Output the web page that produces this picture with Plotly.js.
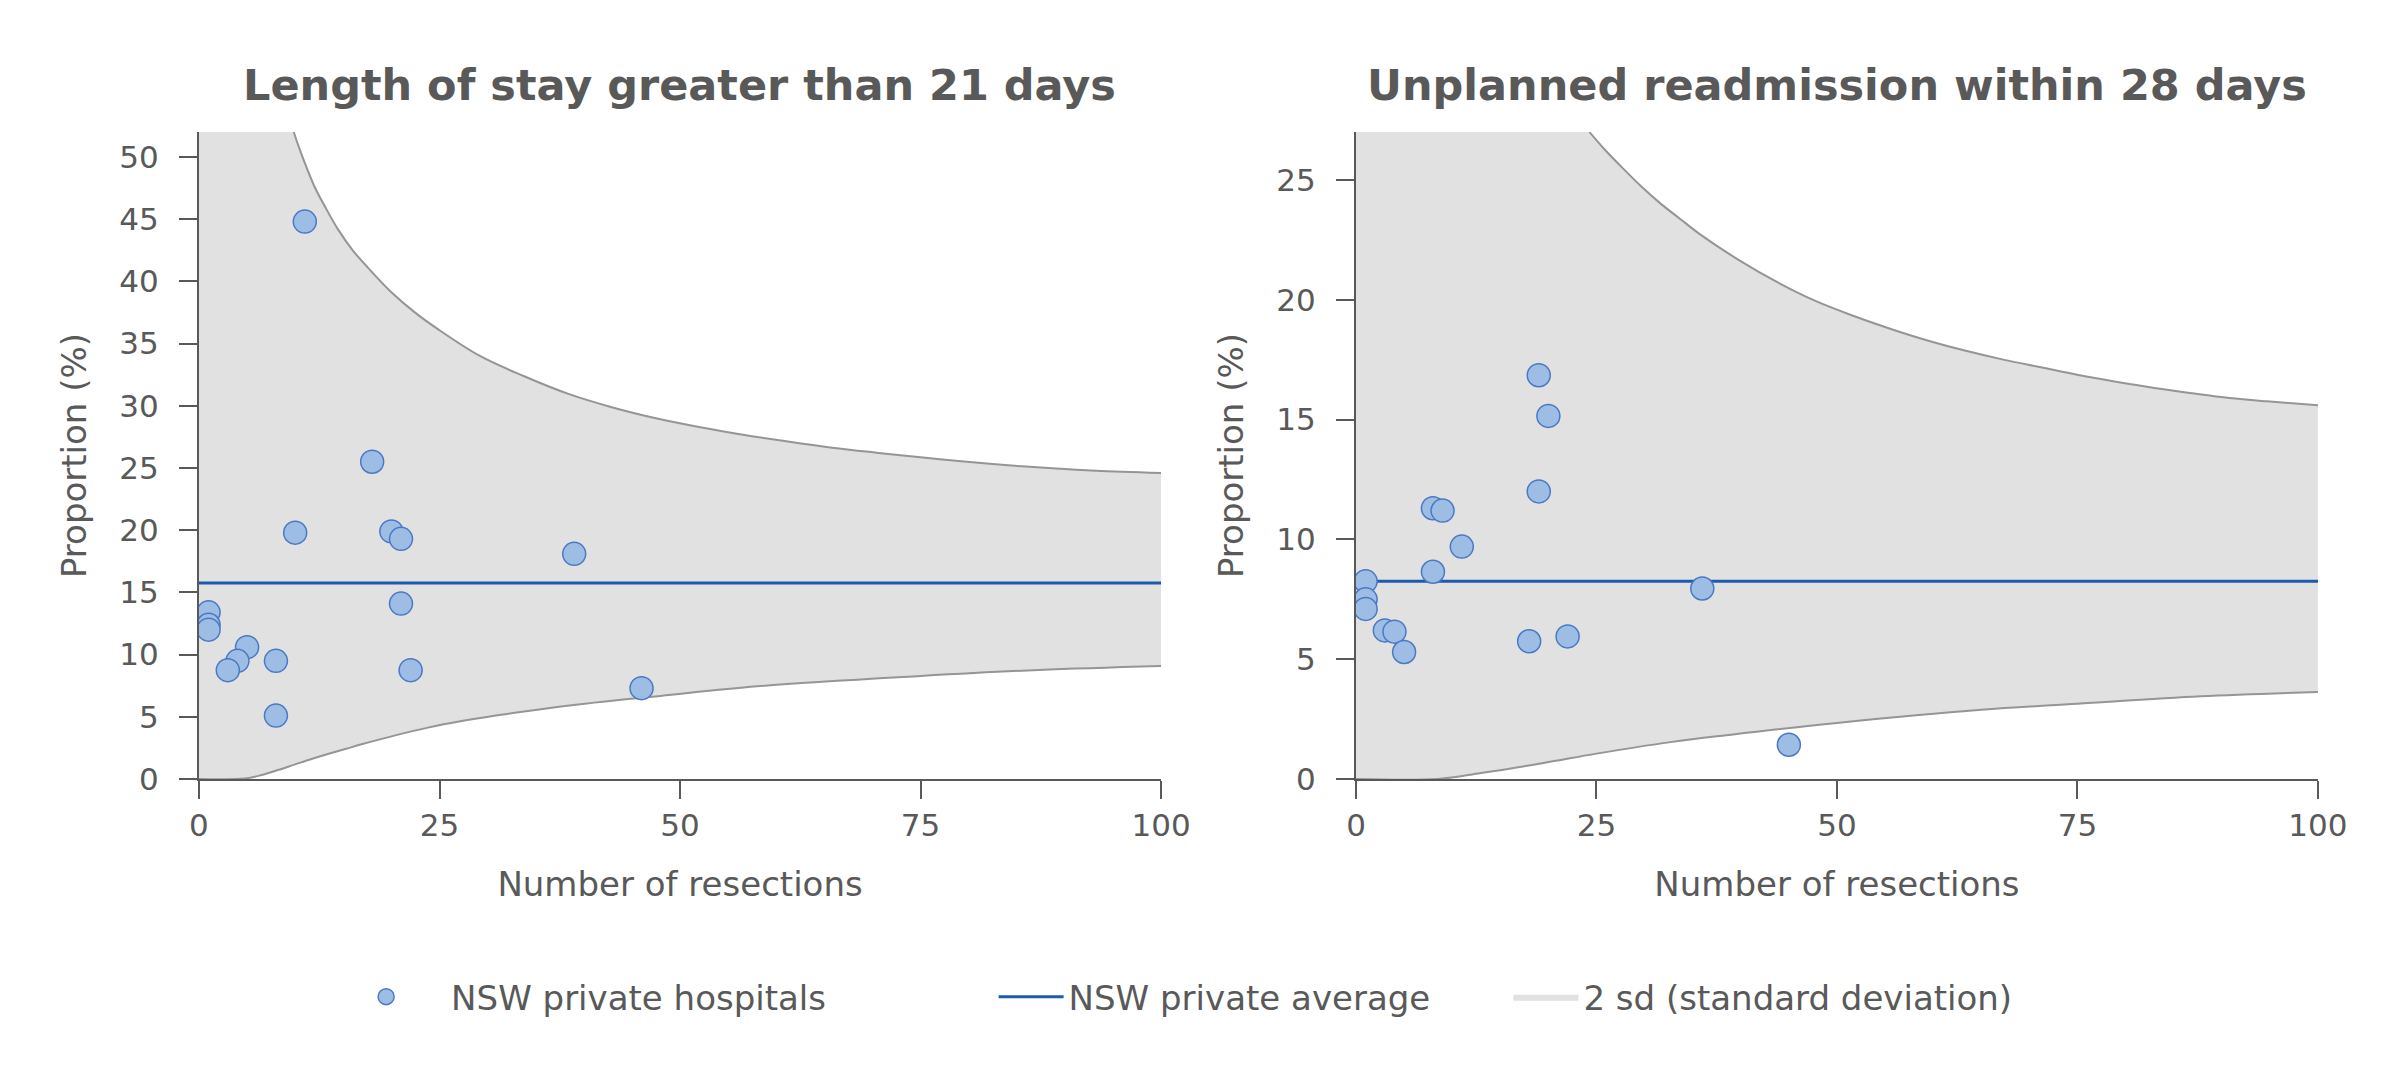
<!DOCTYPE html>
<html>
<head>
<meta charset="utf-8">
<script src="https://cdn.plot.ly/plotly-3.0.1.min.js"></script>
<style>
  html, body { margin: 0; padding: 0; background: #ffffff; }
  #chart { width: 2400px; height: 1066px; }
</style>
</head>
<body>
<div id="chart"></div>
<script>
// Length of stay greater than 21 days
var stayN = [11, 18, 10, 20, 21, 39, 21, 1, 1, 1, 5, 4, 3, 8, 22, 8, 46];
var stayPct = [44.8, 25.5, 19.8, 19.9, 19.3, 18.1, 14.1, 13.4, 12.4, 12.0, 10.6, 9.5, 8.75, 9.5, 8.75, 5.1, 7.3];
var stayAvg = 15.75;
var stayUpperN = [0, 9.85, 10.45, 11.24, 12.04, 13.23, 14.42, 16, 18, 20, 22.4, 24.8, 29.2, 33.8, 38.4, 42.9, 47.5, 52.1, 56.7, 61.2, 65.8, 70.4, 75, 79.5, 84.1, 88.7, 93.2, 100];
var stayUpper = [100, 52, 50.64, 49.04, 47.56, 45.82, 44.21, 42.47, 40.73, 39.12, 37.52, 36.17, 34.0, 32.37, 30.95, 29.88, 28.99, 28.27, 27.65, 27.12, 26.63, 26.23, 25.86, 25.51, 25.21, 24.97, 24.78, 24.6];
var stayLowerN = [0, 4.8, 6.5, 8.2, 10, 11.7, 13.4, 15.2, 16.9, 20.3, 23.8, 27.3, 30.7, 34.2, 37.6, 41.1, 44.6, 48, 58, 75, 87.3, 100];
var stayLower = [0, 0.05, 0.32, 0.72, 1.18, 1.61, 2.01, 2.41, 2.79, 3.49, 4.13, 4.66, 5.09, 5.47, 5.82, 6.14, 6.43, 6.68, 7.45, 8.28, 8.77, 9.09];

// Unplanned readmission within 28 days
var readmitN = [19, 20, 19, 8, 9, 11, 8, 1, 1, 1, 3, 4, 5, 18, 22, 36, 45];
var readmitPct = [16.85, 15.15, 12.0, 11.3, 11.2, 9.7, 8.65, 8.25, 7.5, 7.1, 6.2, 6.15, 5.3, 5.75, 5.95, 7.95, 1.43];
var readmitAvg = 8.25;
var readmitUpperN = [0, 24.26, 25.8, 27.8, 29.75, 31.7, 33.7, 35.7, 39.9, 43.8, 47.7, 51.6, 55.6, 59.5, 63.4, 67.3, 71.2, 75.1, 79, 83, 86.9, 90.8, 94.7, 100];
var readmitUpper = [100, 27, 26.29, 25.46, 24.69, 24.0, 23.37, 22.75, 21.63, 20.73, 19.96, 19.34, 18.78, 18.29, 17.87, 17.5, 17.18, 16.86, 16.58, 16.32, 16.1, 15.9, 15.76, 15.6];
var readmitLowerN = [0, 8.5, 13, 19.5, 25, 32.5, 39, 50, 65, 75, 87.8, 100];
var readmitLower = [0, 0, 0.25, 0.67, 1.06, 1.53, 1.85, 2.34, 2.89, 3.14, 3.45, 3.63];

var avgRangeN = [0, 100];
var xTicks = [0, 25, 50, 75, 100];

(function () {
  'use strict';

  var container = document.getElementById('chart');
  if (!container || typeof Plotly === 'undefined') return;

  var textGrey = '#595959';
  var bandFill = '#e1e1e1';
  var bandLine = '#959595';
  var avgBlue = '#1d5bb0';
  var dotFill = '#9dbde4';
  var dotLine = '#4a79c3';
  var fontFamily = '"DejaVu Sans", Verdana, sans-serif';

  // shaded band (no outline) then the two grey edges on top.
  // the first upper point sits far above the axis so the fill reaches the top
  // on the left; the drawn edge skips it so the spline stays clean.
  function bandTraces(lowN, low, upN, up, xa, ya, withLegend) {
    var edge = { color: bandLine, width: 2, shape: 'spline', smoothing: 1 };
    return [
      {
        type: 'scatter', mode: 'lines', x: lowN, y: low,
        xaxis: xa, yaxis: ya,
        line: { width: 0, shape: 'spline', smoothing: 1 },
        showlegend: false, hoverinfo: 'skip'
      },
      {
        type: 'scatter', mode: 'lines', x: upN, y: up,
        xaxis: xa, yaxis: ya,
        fill: 'tonexty', fillcolor: bandFill,
        line: { width: 0 },
        name: '2 sd (standard deviation)', legend: 'legend3',
        showlegend: withLegend, hoverinfo: 'skip'
      },
      {
        type: 'scatter', mode: 'lines', x: lowN, y: low,
        xaxis: xa, yaxis: ya, line: edge,
        showlegend: false, hoverinfo: 'skip'
      },
      {
        type: 'scatter', mode: 'lines', x: upN.slice(1), y: up.slice(1),
        xaxis: xa, yaxis: ya, line: edge,
        showlegend: false, hoverinfo: 'skip'
      }
    ];
  }

  function avgTrace(val, xa, ya, withLegend) {
    return {
      type: 'scatter', mode: 'lines', x: avgRangeN, y: [val, val],
      xaxis: xa, yaxis: ya,
      line: { color: avgBlue, width: 3 },
      name: 'NSW private average', legend: 'legend2',
      showlegend: withLegend, hoverinfo: 'skip'
    };
  }

  function dotTrace(n, pct, xa, ya, withLegend) {
    return {
      type: 'scatter', mode: 'markers', x: n, y: pct,
      xaxis: xa, yaxis: ya,
      marker: { size: 23, color: dotFill, line: { color: dotLine, width: 1.5 } },
      name: 'NSW private hospitals', legend: 'legend',
      showlegend: withLegend
    };
  }

  var traces = []
    .concat(bandTraces(stayLowerN, stayLower, stayUpperN, stayUpper, 'x', 'y', true))
    .concat(bandTraces(readmitLowerN, readmitLower, readmitUpperN, readmitUpper, 'x2', 'y2', false))
    .concat([
      avgTrace(stayAvg, 'x', 'y', true),
      avgTrace(readmitAvg, 'x2', 'y2', false),
      dotTrace(stayN, stayPct, 'x', 'y', true),
      dotTrace(readmitN, readmitPct, 'x2', 'y2', false)
    ]);

  function xAxis(domain, anchor) {
    return {
      domain: domain, anchor: anchor, range: [0, 100],
      tickvals: xTicks,
      showline: true, linecolor: textGrey, linewidth: 2,
      ticks: 'outside', ticklen: 18, tickwidth: 2, tickcolor: textGrey,
      showgrid: false, zeroline: false,
      tickfont: { size: 31, color: textGrey },
      title: { text: 'Number of resections', standoff: 30, font: { size: 34, color: textGrey } }
    };
  }

  function yAxis(domain, anchor, top) {
    return {
      domain: domain, anchor: anchor, range: [0, top],
      dtick: 5, tick0: 0,
      showline: true, linecolor: textGrey, linewidth: 2,
      ticks: 'outside', ticklen: 18, tickwidth: 2, tickcolor: textGrey,
      ticklabelstandoff: 14,
      showgrid: false, zeroline: false,
      tickfont: { size: 31, color: textGrey },
      title: { text: 'Proportion (%)', standoff: 22, font: { size: 34, color: textGrey } }
    };
  }

  function legendAt(x, itemWidth) {
    return {
      x: x, y: 0.0647, xanchor: 'left', yanchor: 'middle',
      orientation: 'h', itemwidth: itemWidth, borderwidth: 0,
      bgcolor: 'rgba(0,0,0,0)',
      font: { size: 34, color: textGrey, family: fontFamily }
    };
  }

  function subTitle(text, x) {
    return {
      text: text, xref: 'paper', yref: 'paper', x: x, y: 0.920,
      xanchor: 'center', yanchor: 'middle', showarrow: false,
      font: { size: 43, color: textGrey, family: fontFamily, weight: 'bold' }
    };
  }

  var yDomain = [0.2692, 0.8762];
  var layout = {
    width: 2400, height: 1066,
    margin: { t: 0, r: 0, b: 0, l: 0 },
    paper_bgcolor: '#ffffff', plot_bgcolor: '#ffffff',
    font: { family: fontFamily, size: 31, color: textGrey },
    xaxis: xAxis([0.0829, 0.4838], 'y'),
    yaxis: yAxis(yDomain, 'x', 52),
    xaxis2: xAxis([0.5650, 0.9658], 'y2'),
    yaxis2: yAxis(yDomain, 'x2', 27),
    legend: legendAt(0.1338, 120),
    legend2: legendAt(0.4140, 65),
    legend3: legendAt(0.6285, 65),
    annotations: [
      subTitle('Length of stay greater than 21 days', 0.2833),
      subTitle('Unplanned readmission within 28 days', 0.7654)
    ],
    hovermode: 'closest'
  };

  Plotly.newPlot(container, traces, layout, { displayModeBar: false, responsive: false });
})();
</script>
</body>
</html>
